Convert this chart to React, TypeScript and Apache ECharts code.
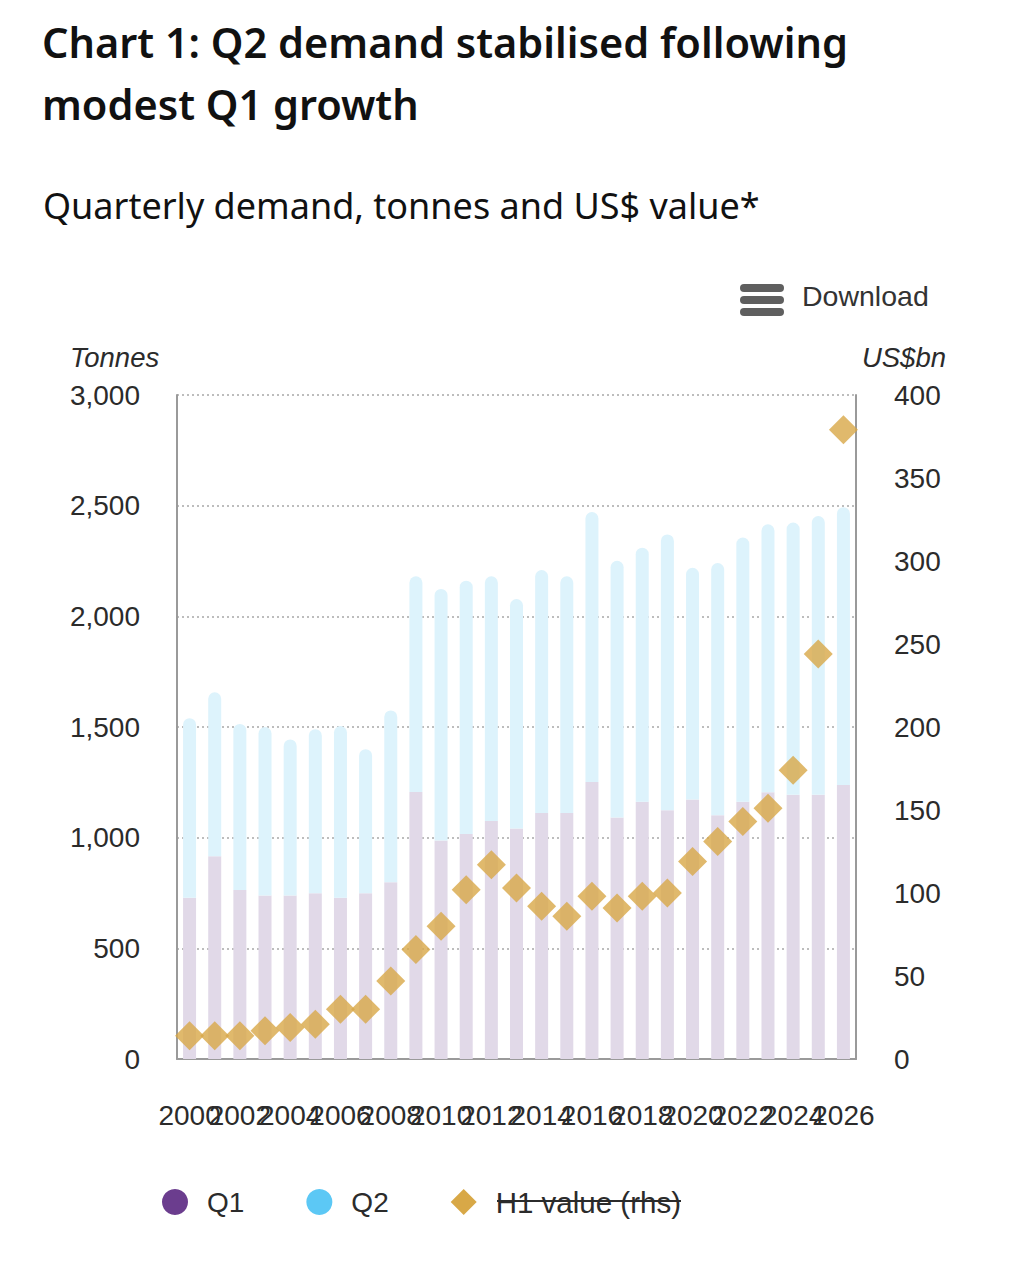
import React, { useEffect, useRef } from "react";
import * as echarts from "echarts";

const years: string[] = [
  "2000", "2001", "2002", "2003", "2004", "2005", "2006", "2007", "2008", "2009",
  "2010", "2011", "2012", "2013", "2014", "2015", "2016", "2017", "2018", "2019",
  "2020", "2021", "2022", "2023", "2024", "2025", "2026",
];
const q1Tonnes: number[] = [
  729, 916, 763, 739, 739, 749, 729, 749, 799, 1206,
  987, 1017, 1075, 1041, 1112, 1112, 1252, 1091, 1162, 1124,
  1172, 1101, 1162, 1205, 1194, 1194, 1238,
];
const totalTonnes: number[] = [
  1540, 1657, 1514, 1500, 1444, 1490, 1504, 1400, 1575, 2181,
  2124, 2161, 2181, 2078, 2209, 2181, 2471, 2251, 2310, 2370,
  2219, 2241, 2356, 2416, 2424, 2453, 2493,
];
const q2Tonnes: number[] = totalTonnes.map((t, i) => t - q1Tonnes[i]);
const h1Value: number[] = [
  14, 14, 14, 17, 19, 21, 30, 30, 47, 66,
  80, 102, 117, 103, 92, 86, 98, 91, 98, 100,
  119, 131, 143, 151, 174, 244, 379,
];
const leftTicks = { min: 0, max: 3000, interval: 500 };
const rightTicks = { min: 0, max: 400, interval: 50 };

const Q1_COLOR = "#6b3d8e";
const Q2_COLOR = "#5cc8f5";
const H1_COLOR = "#d8a847";
const TEXT = "#2b2b2b";
const SANS = "'Liberation Sans', Arial, Helvetica, sans-serif";
const TITLE_FONT = "'Noto Sans', 'Open Sans', sans-serif";

export default function App() {
  const ref = useRef<HTMLDivElement>(null);
  useEffect(() => {
    document.body.style.margin = "0";
    const chart = echarts.init(ref.current!, null, { renderer: "svg" });
    chart.setOption({
      animation: false,
      backgroundColor: "#ffffff",
      title: [
        {
          text: "Chart 1: Q2 demand stabilised following\nmodest Q1 growth",
          left: 37,
          top: 6,
          textStyle: {
            fontFamily: TITLE_FONT,
            fontSize: 41.5,
            fontWeight: 600,
            color: "#111111",
            lineHeight: 62,
          },
        },
        {
          text: "Quarterly demand, tonnes and US$ value*",
          left: 38,
          top: 182,
          textStyle: {
            fontFamily: TITLE_FONT,
            fontSize: 36,
            fontWeight: 400,
            color: "#111111",
          },
        },
      ],
      grid: { left: 177, right: 155, top: 395, bottom: 221, containLabel: false },
      legend: {
        left: 157,
        top: 1182,
        itemWidth: 26,
        itemHeight: 26,
        itemGap: 62,
        selectedMode: false,
        textStyle: {
          fontFamily: SANS,
          fontSize: 28,
          color: TEXT,
          padding: [0, 0, 0, 14],
        },
        data: [
          { name: "Q1", icon: "circle", itemStyle: { color: Q1_COLOR, opacity: 1 } },
          { name: "Q2", icon: "circle", itemStyle: { color: Q2_COLOR, opacity: 1 } },
          {
            name: "H1 value (rhs)",
            icon: "diamond",
            itemStyle: { color: H1_COLOR, opacity: 1 },
            textStyle: { fontSize: 29.5 },
          },
        ],
      },
      graphic: [
        {
          type: "group",
          left: 740,
          top: 284,
          children: [
            { type: "rect", shape: { x: 0, y: 0, width: 44, height: 8, r: 4 }, style: { fill: "#5f5f5f" } },
            { type: "rect", shape: { x: 0, y: 12, width: 44, height: 8, r: 4 }, style: { fill: "#5f5f5f" } },
            { type: "rect", shape: { x: 0, y: 24, width: 44, height: 8, r: 4 }, style: { fill: "#5f5f5f" } },
          ],
        },
        {
          type: "text",
          left: 802,
          top: 281,
          style: { text: "Download", fontFamily: SANS, fontSize: 28.5, fill: "#333333" },
        },
        {
          type: "line",
          shape: { x1: 497, y1: 1201, x2: 681, y2: 1201 },
          style: { stroke: TEXT, lineWidth: 2 },
          z: 100,
        },
      ],
      xAxis: {
        type: "category",
        data: years,
        boundaryGap: true,
        axisLine: { show: true, lineStyle: { color: "#9a9a9a", width: 2 } },
        axisTick: { show: false },
        axisLabel: {
          interval: 0,
          margin: 42,
          fontFamily: SANS,
          fontSize: 28,
          color: TEXT,
          hideOverlap: false,
          formatter: (v: string, i: number) => (i % 2 === 0 ? v : ""),
        },
      },
      yAxis: [
        {
          type: "value",
          ...leftTicks,
          name: "Tonnes",
          nameLocation: "end",
          nameGap: 24,
          nameTextStyle: {
            fontFamily: SANS,
            fontSize: 27.5,
            fontStyle: "italic",
            color: TEXT,
            align: "left",
            padding: [0, 0, 0, -107],
          },
          axisLine: { show: true, lineStyle: { color: "#9a9a9a", width: 2 } },
          axisTick: { show: false },
          axisLabel: {
            margin: 37,
            fontFamily: SANS,
            fontSize: 28,
            color: TEXT,
            formatter: (v: number) => v.toLocaleString("en-US"),
          },
          splitLine: { show: true, lineStyle: { color: "#a8a8a8", type: [2, 3], width: 1.5 } },
        },
        {
          type: "value",
          ...rightTicks,
          name: "US$bn",
          nameLocation: "end",
          nameGap: 24,
          nameTextStyle: {
            fontFamily: SANS,
            fontSize: 27.5,
            fontStyle: "italic",
            color: TEXT,
            align: "right",
            padding: [0, -90, 0, 0],
          },
          axisLine: { show: true, lineStyle: { color: "#9a9a9a", width: 2 } },
          axisTick: { show: false },
          axisLabel: { margin: 38, fontFamily: SANS, fontSize: 28, color: TEXT },
          splitLine: { show: false },
        },
      ],
      series: [
        {
          name: "Q1",
          type: "bar",
          stack: "demand",
          data: q1Tonnes,
          barWidth: 13,
          itemStyle: { color: "#e1d9e8" },
        },
        {
          name: "Q2",
          type: "bar",
          stack: "demand",
          data: q2Tonnes,
          barWidth: 13,
          itemStyle: { color: "#ddf3fc", borderRadius: [6.5, 6.5, 0, 0] },
        },
        {
          name: "H1 value (rhs)",
          type: "scatter",
          yAxisIndex: 1,
          data: h1Value,
          symbol: "diamond",
          symbolSize: 29,
          itemStyle: { color: H1_COLOR },
          z: 5,
        },
      ],
    });
    return () => chart.dispose();
  }, []);
  return <div ref={ref} style={{ width: 1011, height: 1280 }} />;
}
